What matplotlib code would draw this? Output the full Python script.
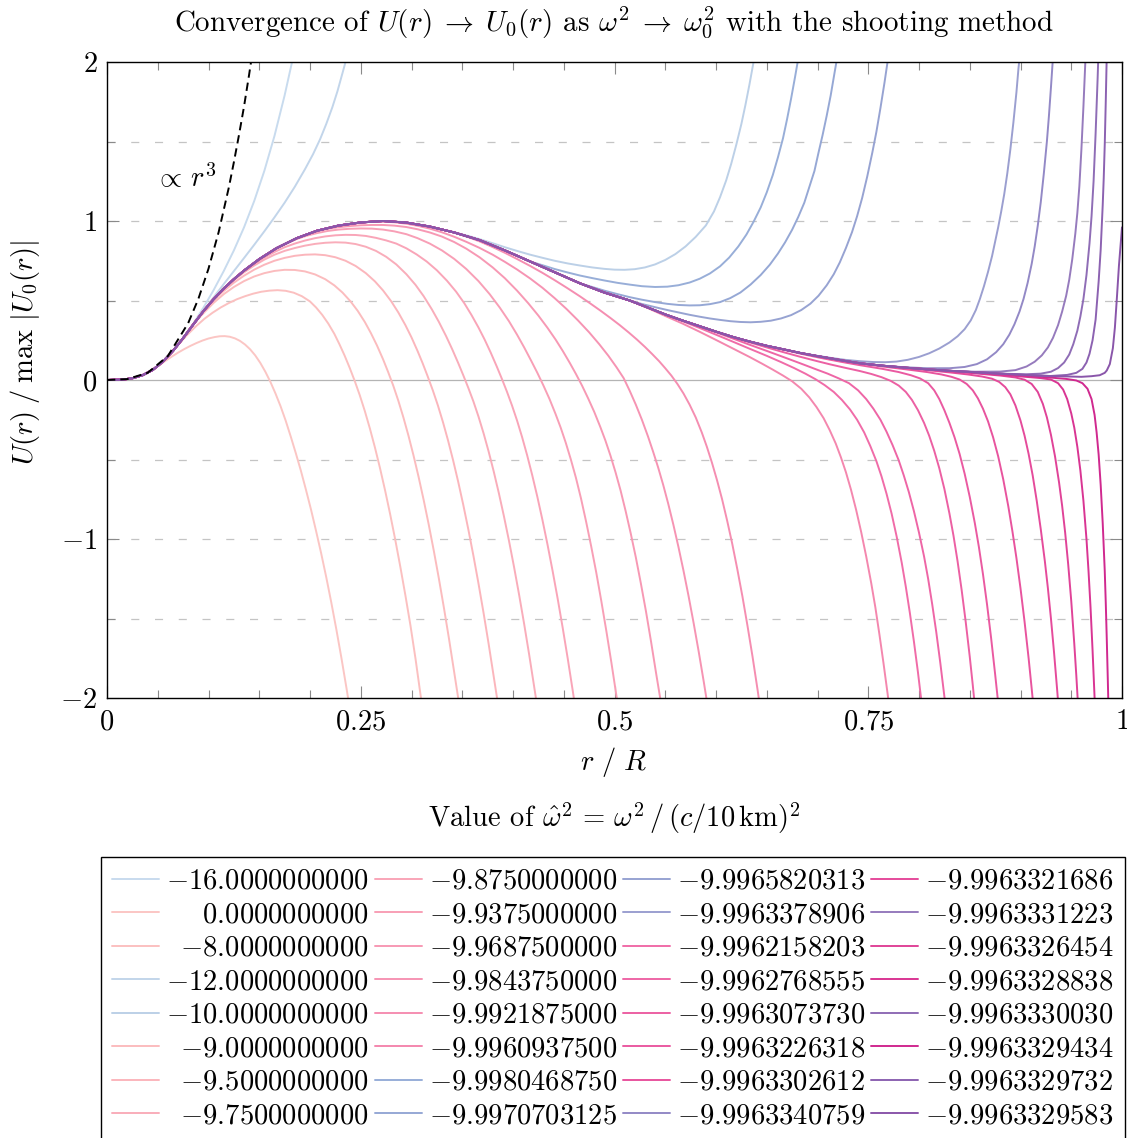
import matplotlib
matplotlib.use("Agg")
import matplotlib.pyplot as plt

plt.rcParams['font.family'] = 'cmr10'
plt.rcParams['mathtext.fontset'] = 'cm'
plt.rcParams['axes.formatter.use_mathtext'] = True
plt.rcParams['lines.scale_dashes'] = False

FS = 20.6
W, H = 1127, 1138

# ---------------- data ----------------
# converged profile shared by all runs before they split off
BASE_R = [0.0, 0.015, 0.025, 0.035, 0.045, 0.055, 0.065, 0.075, 0.085, 0.095, 0.105, 0.115, 0.125,
          0.135, 0.15, 0.167, 0.187, 0.207, 0.228, 0.25, 0.272, 0.295, 0.318, 0.342, 0.367, 0.392,
          0.417, 0.441, 0.466, 0.49, 0.515, 0.533, 0.551, 0.567, 0.584, 0.6, 0.617, 0.633, 0.65,
          0.667, 0.683, 0.7, 0.712, 0.727, 0.742, 0.764, 0.786, 0.808, 0.83, 0.855, 0.88, 0.905,
          0.929, 0.96, 0.985]
BASE_U = [0.0, 0.002, 0.011, 0.03, 0.063, 0.115, 0.183, 0.263, 0.349, 0.433, 0.508, 0.575, 0.634,
          0.688, 0.76, 0.829, 0.892, 0.939, 0.971, 0.991, 1.0, 0.99, 0.965, 0.928, 0.88, 0.815,
          0.745, 0.678, 0.608, 0.55, 0.5, 0.455, 0.41, 0.374, 0.338, 0.304, 0.27, 0.242, 0.215,
          0.192, 0.17, 0.15, 0.137, 0.12, 0.105, 0.09, 0.078, 0.067, 0.058, 0.049, 0.04, 0.032,
          0.025, 0.02, 0.018]

LEGEND_VALUES = ['-16.0000000000', '0.0000000000', '-8.0000000000', '-12.0000000000',
                 '-10.0000000000', '-9.0000000000', '-9.5000000000', '-9.7500000000',
                 '-9.8750000000', '-9.9375000000', '-9.9687500000', '-9.9843750000',
                 '-9.9921875000', '-9.9960937500', '-9.9980468750', '-9.9970703125',
                 '-9.9965820313', '-9.9963378906', '-9.9962158203', '-9.9962768555',
                 '-9.9963073730', '-9.9963226318', '-9.9963302612', '-9.9963340759',
                 '-9.9963321686', '-9.9963331223', '-9.9963326454', '-9.9963328838',
                 '-9.9963330030', '-9.9963329434', '-9.9963329732', '-9.9963329583']

# last radius at which each run still lies on the shared profile
DEPART = [0.065, 0.045, 0.065, 0.085, 0.342, 0.085, 0.095, 0.105,
          0.125, 0.167, 0.207, 0.25, 0.342, 0.515, 0.417, 0.466,
          0.515, 0.683, 0.551, 0.584, 0.617, 0.65, 0.712, 0.764,
          0.764, 0.83, 0.808, 0.83, 0.88, 0.88, 0.929, 0.96]

TAIL_R = [
    # -16
    [0.075, 0.085, 0.095, 0.105, 0.115, 0.125, 0.135, 0.145, 0.155, 0.165, 0.175, 0.183, 0.186],
    # 0
    [0.052, 0.058, 0.064, 0.07, 0.076, 0.082, 0.088, 0.094, 0.1, 0.106, 0.111, 0.116, 0.121, 0.126,
     0.131, 0.136, 0.141, 0.146, 0.151, 0.156, 0.161, 0.166, 0.171, 0.176, 0.181, 0.186, 0.191,
     0.196, 0.201, 0.206, 0.211, 0.216, 0.221, 0.226, 0.231, 0.236, 0.239],
    # -8
    [0.072, 0.08, 0.088, 0.096, 0.104, 0.112, 0.12, 0.128, 0.136, 0.144, 0.152, 0.16, 0.168, 0.176,
     0.184, 0.192, 0.2, 0.206, 0.212, 0.218, 0.224, 0.229, 0.234, 0.239, 0.244, 0.249, 0.254,
     0.259, 0.264, 0.269, 0.274, 0.279, 0.284, 0.289, 0.294, 0.299, 0.304, 0.309, 0.311],
    # -12
    [0.095, 0.105, 0.115, 0.125, 0.135, 0.145, 0.155, 0.165, 0.175, 0.185, 0.195, 0.203, 0.21,
     0.216, 0.222, 0.227, 0.232, 0.235, 0.238],
    # -10
    [0.355, 0.367, 0.38, 0.392, 0.405, 0.417, 0.43, 0.441, 0.454, 0.466, 0.478, 0.49, 0.5, 0.51,
     0.52, 0.53, 0.54, 0.55, 0.56, 0.57, 0.58, 0.59, 0.598, 0.604, 0.61, 0.615, 0.62, 0.625, 0.629,
     0.633, 0.637, 0.639],
    # -9
    [0.095, 0.105, 0.115, 0.125, 0.135, 0.145, 0.155, 0.165, 0.175, 0.185, 0.195, 0.205, 0.215,
     0.224, 0.232, 0.24, 0.247, 0.254, 0.26, 0.266, 0.272, 0.277, 0.282, 0.287, 0.292, 0.297,
     0.302, 0.307, 0.312, 0.317, 0.322, 0.327, 0.332, 0.337, 0.342, 0.346, 0.348],
    # -9.5
    [0.105, 0.115, 0.125, 0.135, 0.145, 0.155, 0.165, 0.175, 0.185, 0.195, 0.205, 0.215, 0.225,
     0.235, 0.245, 0.255, 0.264, 0.272, 0.28, 0.287, 0.294, 0.3, 0.306, 0.311, 0.316, 0.321, 0.326,
     0.331, 0.336, 0.341, 0.346, 0.351, 0.356, 0.361, 0.366, 0.371, 0.376, 0.381, 0.385],
    # -9.75
    [0.115, 0.125, 0.135, 0.145, 0.155, 0.165, 0.175, 0.185, 0.195, 0.205, 0.215, 0.225, 0.235,
     0.245, 0.255, 0.265, 0.275, 0.285, 0.295, 0.304, 0.312, 0.32, 0.327, 0.334, 0.34, 0.346,
     0.351, 0.356, 0.361, 0.366, 0.371, 0.376, 0.381, 0.386, 0.391, 0.396, 0.401, 0.406, 0.411,
     0.416, 0.421, 0.424],
    # -9.875
    [0.135, 0.145, 0.155, 0.165, 0.175, 0.185, 0.195, 0.205, 0.215, 0.225, 0.235, 0.245, 0.255,
     0.265, 0.275, 0.285, 0.295, 0.305, 0.315, 0.325, 0.335, 0.344, 0.352, 0.359, 0.366, 0.372,
     0.378, 0.384, 0.389, 0.394, 0.399, 0.404, 0.409, 0.414, 0.419, 0.424, 0.429, 0.434, 0.439,
     0.444, 0.449, 0.454, 0.459, 0.462],
    # -9.9375
    [0.177, 0.187, 0.197, 0.207, 0.217, 0.228, 0.239, 0.25, 0.261, 0.272, 0.283, 0.295, 0.306,
     0.318, 0.33, 0.342, 0.354, 0.366, 0.377, 0.387, 0.396, 0.404, 0.411, 0.418, 0.424, 0.43,
     0.436, 0.442, 0.447, 0.452, 0.457, 0.462, 0.467, 0.472, 0.477, 0.482, 0.487, 0.492, 0.497,
     0.502, 0.504],
    # -9.96875
    [0.217, 0.228, 0.239, 0.25, 0.261, 0.272, 0.283, 0.295, 0.306, 0.318, 0.33, 0.342, 0.354,
     0.367, 0.38, 0.392, 0.404, 0.415, 0.425, 0.434, 0.442, 0.449, 0.456, 0.462, 0.468, 0.474,
     0.48, 0.486, 0.491, 0.496, 0.501, 0.506, 0.511, 0.516, 0.521, 0.526, 0.531, 0.536, 0.541,
     0.545, 0.547],
    # -9.984375
    [0.261, 0.272, 0.283, 0.295, 0.306, 0.318, 0.33, 0.342, 0.354, 0.367, 0.38, 0.392, 0.404,
     0.417, 0.429, 0.441, 0.453, 0.464, 0.475, 0.485, 0.494, 0.502, 0.509, 0.515, 0.521, 0.527,
     0.533, 0.538, 0.543, 0.548, 0.553, 0.558, 0.563, 0.568, 0.573, 0.578, 0.583, 0.588, 0.591,
     0.593],
    # -9.9921875
    [0.354, 0.367, 0.38, 0.392, 0.404, 0.417, 0.429, 0.441, 0.453, 0.466, 0.476, 0.486, 0.496,
     0.505, 0.514, 0.522, 0.53, 0.537, 0.544, 0.55, 0.556, 0.562, 0.568, 0.574, 0.58, 0.586,
     0.591, 0.596, 0.601, 0.606, 0.611, 0.616, 0.621, 0.626, 0.631, 0.636, 0.641, 0.643, 0.645],
    # -9.99609375
    [0.533, 0.551, 0.567, 0.584, 0.6, 0.617, 0.633, 0.645, 0.656, 0.666, 0.675, 0.684, 0.692,
     0.699, 0.706, 0.712, 0.718, 0.723, 0.728, 0.733, 0.738, 0.743, 0.748, 0.753, 0.757, 0.761,
     0.765, 0.769, 0.771],
    # -9.998046875
    [0.43, 0.441, 0.454, 0.466, 0.478, 0.49, 0.503, 0.515, 0.527, 0.54, 0.552, 0.563, 0.574, 0.584,
     0.594, 0.604, 0.613, 0.622, 0.63, 0.637, 0.644, 0.65, 0.656, 0.661, 0.666, 0.67, 0.674,
     0.678, 0.681, 0.683],
    # -9.9970703125
    [0.478, 0.49, 0.503, 0.515, 0.527, 0.54, 0.552, 0.563, 0.574, 0.584, 0.594, 0.604, 0.614,
     0.624, 0.634, 0.644, 0.653, 0.661, 0.668, 0.675, 0.681, 0.687, 0.692, 0.697, 0.701, 0.705,
     0.709, 0.713, 0.717, 0.72],
    # -9.9965820313
    [0.527, 0.54, 0.552, 0.563, 0.574, 0.584, 0.594, 0.604, 0.614, 0.624, 0.634, 0.644, 0.654,
     0.664, 0.674, 0.684, 0.693, 0.701, 0.709, 0.716, 0.722, 0.728, 0.734, 0.739, 0.744, 0.749,
     0.754, 0.758, 0.762, 0.766, 0.769, 0.771],
    # -9.9963378906
    [0.7, 0.712, 0.727, 0.742, 0.755, 0.767, 0.778, 0.789, 0.8, 0.81, 0.82, 0.83, 0.838, 0.845,
     0.851, 0.856, 0.86, 0.864, 0.868, 0.872, 0.875, 0.878, 0.881, 0.884, 0.887, 0.89, 0.893,
     0.896, 0.898, 0.9],
    # -9.9962158203
    [0.567, 0.584, 0.6, 0.617, 0.633, 0.65, 0.664, 0.677, 0.688, 0.698, 0.707, 0.716, 0.724,
     0.732, 0.739, 0.746, 0.752, 0.758, 0.763, 0.768, 0.773, 0.778, 0.783, 0.787, 0.791, 0.795,
     0.799, 0.802, 0.804],
    # -9.9962768555
    [0.6, 0.617, 0.633, 0.65, 0.667, 0.683, 0.697, 0.71, 0.721, 0.731, 0.74, 0.748, 0.755, 0.762,
     0.768, 0.774, 0.78, 0.785, 0.79, 0.795, 0.8, 0.805, 0.809, 0.813, 0.817, 0.821, 0.825, 0.827],
    # -9.9963073730
    [0.633, 0.65, 0.667, 0.683, 0.7, 0.712, 0.727, 0.742, 0.753, 0.763, 0.772, 0.78, 0.787, 0.793,
     0.799, 0.805, 0.81, 0.815, 0.82, 0.825, 0.83, 0.834, 0.838, 0.842, 0.846, 0.85, 0.853, 0.855],
    # -9.9963226318
    [0.667, 0.683, 0.7, 0.712, 0.727, 0.742, 0.764, 0.78, 0.792, 0.801, 0.809, 0.815, 0.82, 0.825,
     0.83, 0.835, 0.84, 0.845, 0.85, 0.855, 0.859, 0.863, 0.867, 0.871, 0.875, 0.878, 0.879],
    # -9.9963302612
    [0.727, 0.742, 0.764, 0.786, 0.808, 0.822, 0.832, 0.84, 0.847, 0.853, 0.858, 0.863, 0.868,
     0.873, 0.878, 0.883, 0.888, 0.892, 0.896, 0.9, 0.904, 0.908, 0.911, 0.913],
    # -9.9963340759
    [0.786, 0.808, 0.83, 0.845, 0.857, 0.867, 0.876, 0.883, 0.889, 0.894, 0.899, 0.903, 0.907,
     0.911, 0.914, 0.917, 0.92, 0.923, 0.926, 0.928, 0.93, 0.932, 0.933],
    # -9.9963321686
    [0.786, 0.808, 0.83, 0.848, 0.862, 0.872, 0.879, 0.885, 0.89, 0.895, 0.9, 0.904, 0.908, 0.912,
     0.916, 0.92, 0.924, 0.927, 0.93, 0.933, 0.936, 0.938],
    # -9.9963331223
    [0.855, 0.88, 0.895, 0.906, 0.914, 0.921, 0.927, 0.932, 0.937, 0.941, 0.945, 0.948, 0.951,
     0.954, 0.956, 0.958, 0.96, 0.962, 0.964, 0.965],
    # -9.9963326454
    [0.83, 0.855, 0.88, 0.895, 0.904, 0.911, 0.917, 0.922, 0.926, 0.93, 0.934, 0.938, 0.941, 0.944,
     0.947, 0.95, 0.953, 0.955, 0.957],
    # -9.9963328838
    [0.855, 0.88, 0.905, 0.92, 0.93, 0.937, 0.942, 0.946, 0.95, 0.953, 0.956, 0.959, 0.962, 0.965,
     0.967, 0.969, 0.971, 0.973, 0.974],
    # -9.9963330030
    [0.905, 0.92, 0.93, 0.937, 0.943, 0.948, 0.952, 0.956, 0.959, 0.962, 0.965, 0.968, 0.97, 0.972,
     0.974, 0.976, 0.977],
    # -9.9963329434
    [0.905, 0.93, 0.945, 0.955, 0.961, 0.966, 0.97, 0.973, 0.975, 0.977, 0.979, 0.981, 0.983,
     0.984, 0.985, 0.986, 0.987],
    # -9.9963329732
    [0.946, 0.955, 0.961, 0.965, 0.968, 0.971, 0.974, 0.977, 0.979, 0.981, 0.982, 0.983, 0.984,
     0.985, 0.986],
    # -9.9963329583
    [0.97, 0.978, 0.983, 0.985, 0.988, 0.991, 0.993, 0.995, 0.997, 0.999, 1.0],
]

TAIL_U = [
    [0.265, 0.355, 0.455, 0.565, 0.685, 0.815, 0.96, 1.125, 1.315, 1.535, 1.79, 2.02, 2.1],
    [0.095, 0.122, 0.148, 0.172, 0.194, 0.214, 0.232, 0.248, 0.261, 0.27, 0.275, 0.276, 0.272,
     0.262, 0.246, 0.223, 0.193, 0.155, 0.108, 0.052, -0.012, -0.085, -0.165, -0.255, -0.355,
     -0.46, -0.57, -0.69, -0.815, -0.95, -1.09, -1.24, -1.4, -1.57, -1.75, -1.94, -2.06],
    [0.235, 0.29, 0.34, 0.385, 0.423, 0.456, 0.484, 0.508, 0.527, 0.543, 0.555, 0.562, 0.565,
     0.561, 0.549, 0.527, 0.494, 0.456, 0.41, 0.355, 0.29, 0.225, 0.155, 0.078, -0.005, -0.095,
     -0.195, -0.305, -0.425, -0.555, -0.695, -0.845, -1.005, -1.175, -1.355, -1.545, -1.755,
     -1.985, -2.08],
    [0.435, 0.52, 0.603, 0.685, 0.767, 0.85, 0.935, 1.023, 1.115, 1.215, 1.325, 1.42, 1.515,
     1.61, 1.715, 1.815, 1.93, 2.0, 2.08],
    [0.908, 0.886, 0.86, 0.835, 0.81, 0.788, 0.767, 0.75, 0.733, 0.72, 0.708, 0.699, 0.694, 0.693,
     0.697, 0.708, 0.727, 0.755, 0.792, 0.84, 0.9, 0.972, 1.06, 1.15, 1.255, 1.36, 1.48, 1.61,
     1.73, 1.86, 2.0, 2.08],
    [0.42, 0.485, 0.54, 0.585, 0.622, 0.651, 0.672, 0.686, 0.693, 0.692, 0.683, 0.664, 0.634,
     0.595, 0.55, 0.494, 0.435, 0.365, 0.295, 0.217, 0.13, 0.05, -0.035, -0.13, -0.235, -0.35,
     -0.475, -0.61, -0.755, -0.91, -1.075, -1.25, -1.435, -1.63, -1.835, -2.0, -2.1],
    [0.5, 0.56, 0.612, 0.656, 0.694, 0.725, 0.75, 0.768, 0.781, 0.788, 0.79, 0.785, 0.772, 0.75,
     0.717, 0.672, 0.62, 0.563, 0.495, 0.425, 0.345, 0.268, 0.182, 0.105, 0.022, -0.065, -0.16,
     -0.265, -0.38, -0.505, -0.64, -0.785, -0.94, -1.105, -1.28, -1.465, -1.66, -1.865, -2.03],
    [0.572, 0.628, 0.677, 0.72, 0.757, 0.788, 0.812, 0.83, 0.845, 0.856, 0.863, 0.866, 0.864,
     0.855, 0.838, 0.812, 0.775, 0.727, 0.665, 0.598, 0.527, 0.445, 0.365, 0.277, 0.195, 0.107,
     0.03, -0.05, -0.135, -0.23, -0.335, -0.45, -0.575, -0.71, -0.855, -1.01, -1.175, -1.35,
     -1.535, -1.73, -1.935, -2.06],
    [0.685, 0.73, 0.77, 0.805, 0.835, 0.858, 0.877, 0.892, 0.903, 0.91, 0.913, 0.912, 0.906,
     0.894, 0.878, 0.858, 0.828, 0.79, 0.745, 0.69, 0.624, 0.555, 0.483, 0.41, 0.33, 0.255, 0.173,
     0.085, 0.008, -0.073, -0.16, -0.255, -0.36, -0.475, -0.6, -0.735, -0.88, -1.035, -1.2,
     -1.375, -1.56, -1.755, -1.96, -2.09],
    [0.86, 0.887, 0.908, 0.924, 0.937, 0.946, 0.951, 0.953, 0.952, 0.946, 0.935, 0.917, 0.892,
     0.858, 0.815, 0.762, 0.698, 0.622, 0.54, 0.455, 0.37, 0.285, 0.205, 0.12, 0.045, -0.035,
     -0.12, -0.215, -0.3, -0.395, -0.5, -0.615, -0.745, -0.89, -1.045, -1.21, -1.39, -1.58,
     -1.78, -1.99, -2.08],
    [0.951, 0.961, 0.968, 0.973, 0.975, 0.975, 0.971, 0.962, 0.948, 0.928, 0.902, 0.868, 0.826,
     0.772, 0.708, 0.64, 0.562, 0.483, 0.405, 0.328, 0.254, 0.183, 0.107, 0.038, -0.035, -0.115,
     -0.2, -0.295, -0.38, -0.475, -0.58, -0.695, -0.825, -0.965, -1.115, -1.28, -1.455, -1.645,
     -1.845, -2.0, -2.09],
    [0.995, 0.996, 0.992, 0.983, 0.97, 0.952, 0.929, 0.901, 0.869, 0.831, 0.788, 0.743, 0.695,
     0.638, 0.58, 0.515, 0.445, 0.375, 0.3, 0.225, 0.152, 0.08, 0.012, -0.068, -0.155, -0.25,
     -0.355, -0.45, -0.55, -0.66, -0.78, -0.91, -1.05, -1.2, -1.36, -1.53, -1.71, -1.9, -2.02,
     -2.1],
    [0.903, 0.872, 0.836, 0.8, 0.761, 0.717, 0.674, 0.628, 0.58, 0.526, 0.482, 0.437, 0.39, 0.346,
     0.299, 0.255, 0.208, 0.164, 0.118, 0.074, 0.028, -0.025, -0.085, -0.155, -0.235, -0.33,
     -0.42, -0.52, -0.63, -0.75, -0.885, -1.03, -1.19, -1.36, -1.545, -1.74, -1.95, -2.04, -2.12],
    [0.452, 0.4, 0.355, 0.303, 0.252, 0.197, 0.145, 0.104, 0.065, 0.028, -0.008, -0.055, -0.11,
     -0.17, -0.24, -0.315, -0.4, -0.485, -0.58, -0.69, -0.815, -0.955, -1.11, -1.28, -1.43,
     -1.6, -1.78, -1.97, -2.07],
    [0.72, 0.698, 0.676, 0.657, 0.641, 0.626, 0.611, 0.6, 0.59, 0.585, 0.587, 0.596, 0.613, 0.637,
     0.67, 0.715, 0.77, 0.84, 0.915, 0.995, 1.085, 1.18, 1.29, 1.4, 1.52, 1.64, 1.77, 1.91, 2.02,
     2.1],
    [0.585, 0.562, 0.54, 0.521, 0.505, 0.49, 0.479, 0.472, 0.469, 0.47, 0.477, 0.49, 0.515, 0.55,
     0.6, 0.66, 0.725, 0.795, 0.865, 0.945, 1.025, 1.115, 1.215, 1.315, 1.43, 1.54, 1.66, 1.79,
     1.94, 2.05],
    [0.478, 0.458, 0.44, 0.425, 0.41, 0.398, 0.387, 0.378, 0.37, 0.365, 0.363, 0.366, 0.373,
     0.387, 0.408, 0.44, 0.48, 0.53, 0.595, 0.665, 0.74, 0.83, 0.93, 1.03, 1.145, 1.28, 1.43,
     1.56, 1.71, 1.87, 2.0, 2.08],
    [0.152, 0.14, 0.127, 0.118, 0.113, 0.112, 0.116, 0.127, 0.145, 0.168, 0.198, 0.236, 0.275,
     0.32, 0.375, 0.44, 0.51, 0.59, 0.68, 0.78, 0.87, 0.96, 1.06, 1.17, 1.3, 1.45, 1.62, 1.81,
     1.96, 2.08],
    [0.37, 0.327, 0.285, 0.24, 0.197, 0.152, 0.113, 0.075, 0.04, 0.005, -0.032, -0.075, -0.125,
     -0.185, -0.25, -0.33, -0.415, -0.51, -0.605, -0.715, -0.84, -0.985, -1.15, -1.3, -1.465,
     -1.645, -1.84, -2.0, -2.1],
    [0.3, 0.26, 0.222, 0.183, 0.143, 0.105, 0.071, 0.04, 0.01, -0.02, -0.065, -0.12, -0.18, -0.25,
     -0.325, -0.41, -0.505, -0.6, -0.705, -0.825, -0.96, -1.11, -1.25, -1.41, -1.585, -1.78,
     -1.99, -2.1],
    [0.237, 0.205, 0.174, 0.146, 0.118, 0.099, 0.077, 0.056, 0.038, 0.018, -0.005, -0.035, -0.075,
     -0.125, -0.19, -0.27, -0.35, -0.445, -0.555, -0.685, -0.84, -0.98, -1.14, -1.32, -1.52,
     -1.74, -1.92, -2.05],
    [0.19, 0.166, 0.143, 0.128, 0.11, 0.093, 0.07, 0.05, 0.03, 0.01, -0.02, -0.065, -0.12, -0.19,
     -0.27, -0.36, -0.465, -0.59, -0.735, -0.9, -1.05, -1.22, -1.41, -1.62, -1.85, -2.03, -2.1],
    [0.12, 0.104, 0.085, 0.068, 0.05, 0.035, 0.02, 0.003, -0.025, -0.065, -0.115, -0.18, -0.26,
     -0.36, -0.48, -0.625, -0.795, -0.95, -1.12, -1.31, -1.52, -1.75, -1.94, -2.07],
    [0.08, 0.074, 0.074, 0.082, 0.1, 0.13, 0.175, 0.225, 0.285, 0.35, 0.43, 0.51, 0.61, 0.73,
     0.84, 0.97, 1.12, 1.3, 1.5, 1.66, 1.84, 2.03, 2.1],
    [0.076, 0.062, 0.048, 0.035, 0.022, 0.008, -0.012, -0.045, -0.09, -0.16, -0.255, -0.35,
     -0.465, -0.6, -0.76, -0.94, -1.14, -1.31, -1.5, -1.71, -1.94, -2.1],
    [0.052, 0.053, 0.062, 0.085, 0.115, 0.155, 0.205, 0.265, 0.345, 0.43, 0.53, 0.63, 0.76, 0.92,
     1.05, 1.22, 1.45, 1.72, 2.02, 2.1],
    [0.056, 0.042, 0.028, 0.016, 0.002, -0.025, -0.075, -0.15, -0.235, -0.345, -0.48, -0.645,
     -0.79, -0.96, -1.16, -1.39, -1.66, -1.86, -2.08],
    [0.045, 0.033, 0.02, 0.012, 0.003, -0.02, -0.06, -0.12, -0.21, -0.3, -0.42, -0.57, -0.76,
     -1.0, -1.2, -1.43, -1.7, -2.0, -2.12],
    [0.036, 0.04, 0.052, 0.075, 0.11, 0.16, 0.225, 0.31, 0.4, 0.51, 0.66, 0.86, 1.03, 1.25, 1.55,
     1.9, 2.1],
    [0.028, 0.015, 0.007, -0.003, -0.02, -0.055, -0.12, -0.22, -0.33, -0.47, -0.66, -0.9, -1.2,
     -1.4, -1.63, -1.88, -2.15],
    [0.032, 0.045, 0.07, 0.11, 0.165, 0.25, 0.38, 0.62, 0.82, 1.1, 1.27, 1.48, 1.75, 2.05, 2.15],
    [0.024, 0.03, 0.045, 0.06, 0.1, 0.2, 0.33, 0.52, 0.72, 0.88, 0.96],
]

COLORS = ['#c8dbee', '#fbc6c4', '#fbc0c0', '#c2d5ea', '#bcd0e7', '#fbbcbe', '#fbb6bc', '#f9adba',
          '#f9a5b8', '#f89fb6', '#f799b4', '#f694b3', '#f58eb1', '#f487ae', '#98aed8', '#96a8d5',
          '#97a3d2', '#9b9fd0', '#f06ca8', '#ee66a6', '#ec60a3', '#ea5aa1', '#e8549e', '#9389c6',
          '#e54b9b', '#967bbd', '#e04398', '#d93593', '#8f6db6', '#d0298f', '#8c62b1', '#8a56aa']

# r^3 guide line
GUIDE_R = [0.0, 0.02, 0.04, 0.06, 0.08, 0.09, 0.1, 0.11, 0.12, 0.125, 0.13, 0.135, 0.14, 0.144]
GUIDE_U = [0.0, 0.0056, 0.045, 0.151, 0.358, 0.51, 0.70, 0.93, 1.21, 1.37, 1.54, 1.72, 1.92, 2.09]

XTICKS = [0, 0.25, 0.5, 0.75, 1]
XTICK_LABELS = ['$0$', '$0.25$', '$0.5$', '$0.75$', '$1$']
YTICKS = [-2, -1, 0, 1, 2]
YTICK_LABELS = ['$-2$', '$-1$', '$0$', '$1$', '$2$']
GRID_Y = [-1.5, -1, -0.5, 0.5, 1, 1.5]

# ---------------- figure ----------------
fig = plt.figure(figsize=(W / 100, H / 100), dpi=100)
ax = fig.add_axes([107 / W, 1 - 698 / H, 1015 / W, 636 / H])
ax.set_xlim(0, 1)
ax.set_ylim(-2, 2)

for gy in GRID_Y:
    ax.axhline(gy, color='#c4c4c4', lw=0.9, dashes=(5.8, 11.3), zorder=0.5)
ax.axhline(0, color='#b4b4b4', lw=0.9, zorder=0.6)

handles = []
for i in range(len(LEGEND_VALUES)):
    rr = [r for r in BASE_R if r <= DEPART[i]] + TAIL_R[i]
    uu = [u for r, u in zip(BASE_R, BASE_U) if r <= DEPART[i]] + TAIL_U[i]
    ln, = ax.plot(rr, uu, color=COLORS[i], lw=1.4, solid_joinstyle='round',
                  solid_capstyle='round', zorder=2 + i * 0.01)
    handles.append(ln)

ax.plot(GUIDE_R, GUIDE_U, color='black', lw=1.4, dashes=(6.0, 3.6), zorder=3)
ax.text(0.077, 1.27, r'$\propto\, r^3$', fontsize=FS, ha='center', va='center')

ax.set_xticks(XTICKS)
ax.set_xticklabels(XTICK_LABELS)
ax.set_xticks([i * 0.05 for i in range(21)], minor=True)
ax.set_yticks(YTICKS)
ax.set_yticklabels(YTICK_LABELS)
ax.set_yticks([-1.5, -0.5, 0.5, 1.5], minor=True)
ax.tick_params(which='both', direction='in', top=True, right=True, color='#8a8a8a',
               width=0.8, labelsize=FS)
ax.tick_params(which='major', length=8.4)
ax.tick_params(which='minor', length=5.5)
ax.tick_params(axis='x', pad=8)
ax.tick_params(axis='y', pad=7)
for s in ax.spines.values():
    s.set_linewidth(1.0)
    s.set_color('black')

fig.text(614 / W, 1 - 22 / H,
         r'Convergence of $U(r)\;\to\;U_0(r)$ as $\omega^2\;\to\;\omega_0^2$ with the shooting method',
         fontsize=20.9, ha='center', va='center')
fig.text(614 / W, 1 - 762 / H, r'$r\ /\ R$', fontsize=FS, ha='center', va='center')
fig.text(25 / W, 1 - 352 / H, r'$U(r)\;/\;\max\ |U_0(r)|$', fontsize=FS, ha='center',
         va='center', rotation=90)
fig.text(614 / W, 1 - 818 / H,
         r'Value of $\hat{\omega}^2\,=\,\omega^2\,/\,(c/10\,\mathrm{km})^2$',
         fontsize=FS, ha='center', va='center')


def em_width(s):
    w = 0.0
    for ch in s:
        if ch == '-':
            w += 0.778
        elif ch == '.':
            w += 0.278
        else:
            w += 0.5
    return w


labels = []
for c in range(4):
    col = LEGEND_VALUES[c * 8:(c + 1) * 8]
    wmax = max(em_width(s) for s in col)
    for s in col:
        pad = wmax - em_width(s)
        if pad > 0.01:
            labels.append(r'$\hspace{%.3f}{%s}$' % (pad / 0.878, s))
        else:
            labels.append(r'${%s}$' % s)

leg = fig.legend(handles, labels, ncol=4, loc='upper left',
                 bbox_to_anchor=(101 / W, 1 - 857 / H), bbox_transform=fig.transFigure,
                 frameon=True, fancybox=False, edgecolor='black', framealpha=1,
                 fontsize=FS, handlelength=1.64, handletextpad=0.24, columnspacing=0.21,
                 labelspacing=0.25, borderpad=0.4, borderaxespad=0)
leg.get_frame().set_linewidth(1.0)

fig.savefig('out.png', dpi=100)
